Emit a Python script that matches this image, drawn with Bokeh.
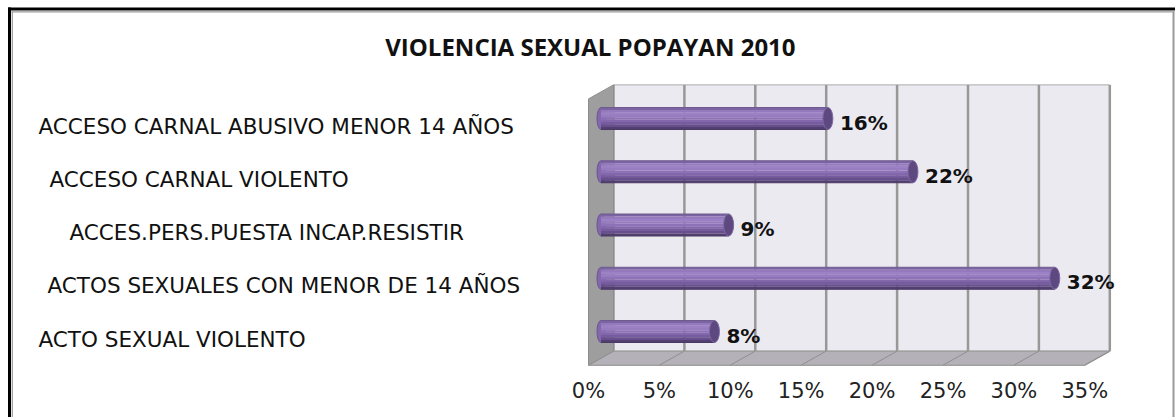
from bokeh.plotting import figure
from bokeh.models import Range1d, ColumnDataSource
from bokeh.embed import file_html
from bokeh.resources import INLINE
from bokeh.core.properties import value

# ---------------- data ----------------
title_text = "VIOLENCIA SEXUAL  POPAYAN 2010"
categories = [
    "ACTO SEXUAL VIOLENTO",
    "ACTOS  SEXUALES CON MENOR DE  14 AÑOS",
    "ACCES.PERS.PUESTA INCAP.RESISTIR",
    "ACCESO CARNAL VIOLENTO",
    "ACCESO CARNAL ABUSIVO MENOR 14 AÑOS",
]
percentages = [8, 32, 9, 22, 16]
value_labels = ["8%", "32%", "9%", "22%", "16%"]
tick_values = [0, 5, 10, 15, 20, 25, 30, 35]
tick_labels = ["0%", "5%", "10%", "15%", "20%", "25%", "30%", "35%"]

# ---------------- layout constants ----------------
W, H = 1175, 417
PX_X = 14.18      # pixels per percent
PX_Y = 53.25      # pixels per category step
X0 = 588          # screen x of 0% on front edge
Y0 = 331          # screen y of first category (mid depth)
label_indent = [0, 9, 31, 11, 0]


def xd(px):
    return (px - X0) / PX_X


def yd(py):
    return (Y0 - py) / PX_Y


p = figure(width=W, height=H,
           x_range=Range1d(xd(0), xd(W)), y_range=Range1d(yd(H), yd(0)),
           output_backend="svg", toolbar_location=None,
           x_axis_type=None, y_axis_type=None, min_border=0,
           outline_line_color=None, background_fill_color="white",
           border_fill_color="white")

n = len(categories)
ypos = list(range(n))
DX = 25 / PX_X
DY = 14 / PX_Y
xmax = tick_values[-1]
y_front = -0.5 - DY / 2
y_back = -0.5 + DY / 2
y_top_back = (n - 0.5) + DY / 2
y_top_front = (n - 0.5) - DY / 2

# back wall
p.patch([DX, xmax + DX, xmax + DX, DX], [y_back, y_back, y_top_back, y_top_back],
        fill_color="#ECEAF1", line_color="#A9A9A9", line_width=1)
# gridlines on back wall
gx = [t + DX for t in tick_values]
p.segment(x0=gx, y0=[y_back] * len(gx), x1=gx, y1=[y_top_back] * len(gx),
          line_color="#989898", line_width=2.5)
# side wall
p.patch([0, DX, DX, 0], [y_front, y_back, y_top_back, y_top_front],
        fill_color="#9E9E9E", line_color="#8C8C8C", line_width=1)
# floor
p.patch([0, xmax, xmax + DX, DX], [y_front, y_front, y_back, y_back],
        fill_color="#B4B2B8", line_color="#A0A0A0", line_width=1.5)
p.segment(x0=tick_values, y0=[y_front] * len(tick_values), x1=gx,
          y1=[y_back] * len(gx), line_color="#8F8F8F", line_width=1)

# cylinders
bar_h = 22 / PX_Y
left = DX / 2
right = [v + DX / 2 for v in percentages]
p.ellipse(x=[left] * n, y=ypos, width=8, height=22, width_units="screen",
          height_units="screen", fill_color="#8468AE", line_color="#6A5590")
strip_colors = ["#7B64A1", "#9479BC", "#9C82C4", "#977CC0", "#8E72B7",
                "#8367AC", "#765C9E", "#664F8C", "#523F70"]
k = len(strip_colors)
for j, c in enumerate(strip_colors):
    p.hbar(y=[yy + bar_h / 2 - (j + 0.5) * bar_h / k for yy in ypos],
           height=bar_h / k * 1.05, left=left, right=right,
           fill_color=c, line_color=None)
p.segment(x0=[left] * n, y0=[yy + bar_h / 2 for yy in ypos], x1=right,
          y1=[yy + bar_h / 2 for yy in ypos], line_color="#6E5C90", line_width=1)
p.segment(x0=[left] * n, y0=[yy - bar_h / 2 for yy in ypos], x1=right,
          y1=[yy - bar_h / 2 for yy in ypos], line_color="#4A3964", line_width=1)
p.ellipse(x=right, y=ypos, width=10, height=22, width_units="screen",
          height_units="screen", fill_color="#5E4880", line_color="#7D69A3",
          line_width=1)

# value labels
p.text(x=right, y=ypos, text=value_labels, x_offset=12, y_offset=4,
       text_font=value("DejaVu Sans"), text_font_style="bold",
       text_font_size="20px", text_baseline="middle", text_align="left",
       text_color="#111111")

# category labels
src = ColumnDataSource(dict(x=[xd(38)] * n, y=ypos, text=categories,
                            indent=label_indent))
p.text(x="x", y="y", text="text", x_offset="indent", y_offset=7.5, source=src,
       text_font=value("DejaVu Sans"), text_font_size="21.5px",
       text_baseline="middle", text_align="left", text_color="#111111")

# tick labels
p.text(x=tick_values, y=[y_front] * len(tick_values), text=tick_labels,
       y_offset=26, text_font=value("DejaVu Sans"), text_font_size="21px",
       text_baseline="middle", text_align="center", text_color="#222222")

# title
p.text(x=[xd(593)], y=[yd(46)], text=[title_text],
       text_font=value("Open Sans"), text_font_style="bold",
       text_font_size="24px", text_baseline="middle", text_align="center",
       text_color="#111111")

# outer border
p.segment(x0=[xd(7.5)], y0=[yd(8.5)], x1=[xd(W)], y1=[yd(8.5)],
          line_color="black", line_width=3)
p.segment(x0=[xd(11)], y0=[yd(11.3)], x1=[xd(1172)], y1=[yd(11.3)],
          line_color="#9A9A9A", line_width=1.2)
p.segment(x0=[xd(9)], y0=[yd(7)], x1=[xd(9)], y1=[yd(H)],
          line_color="black", line_width=3)
p.segment(x0=[xd(11.8)], y0=[yd(11)], x1=[xd(11.8)], y1=[yd(H)],
          line_color="#9A9A9A", line_width=1.2)
p.segment(x0=[xd(1173)], y0=[yd(10)], x1=[xd(1173)], y1=[yd(H)],
          line_color="#9A9A9A", line_width=2)

open("out.html", "w").write(file_html(p, INLINE))
